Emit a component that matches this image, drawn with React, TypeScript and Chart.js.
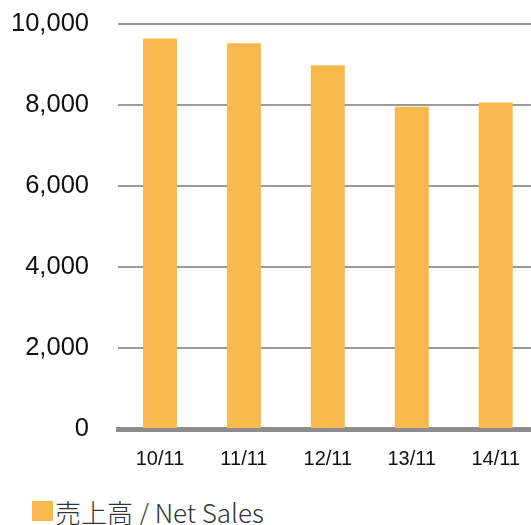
import React, { useEffect, useRef } from "react";
import { Chart, registerables } from "chart.js";

Chart.register(...registerables);

const categories = ["10/11", "11/11", "12/11", "13/11", "14/11"];
const netSales = [9650, 9530, 8990, 7960, 8070];
const yTicks = [0, 2000, 4000, 6000, 8000, 10000];
const seriesLabel = "売上高 / Net Sales";

const BAR_COLOR = "#F7B94D";
const CANVAS_W = 538;
const CANVAS_H = 500;
const CANVAS_TOP = -20;
const PLOT_BOTTOM = 449;

export default function App() {
  const ref = useRef<HTMLCanvasElement | null>(null);

  useEffect(() => {
    if (!ref.current) return;
    const chart = new Chart(ref.current, {
      type: "bar",
      data: {
        labels: categories,
        datasets: [
          {
            label: seriesLabel,
            data: netSales,
            backgroundColor: BAR_COLOR,
            borderWidth: 0,
            categoryPercentage: 1,
            barPercentage: 0.405,
          },
        ],
      },
      options: {
        responsive: false,
        animation: false,
        devicePixelRatio: 1,
        layout: { padding: { top: 5, right: 0, left: 0, bottom: 0 } },
        plugins: { legend: { display: false }, tooltip: { enabled: false } },
        scales: {
          x: {
            z: 1,
            grid: { display: false, drawTicks: false },
            border: { display: true, color: "#8c8c8c", width: 5 },
            ticks: {
              color: "#111",
              font: { family: "'Liberation Sans', Arial, sans-serif", size: 20 },
              padding: 18,
              maxRotation: 0,
            },
            afterFit: (s: any) => {
              s.height = CANVAS_H - PLOT_BOTTOM;
            },
          },
          y: {
            min: 0,
            max: 10000,
            afterBuildTicks: (s: any) => {
              s.ticks = yTicks.map((v) => ({ value: v }));
            },
            grid: {
              drawTicks: false,
              color: (c: any) => (c.tick && c.tick.value === 0 ? "rgba(0,0,0,0)" : "#9a9a9a"),
              lineWidth: 2,
            },
            border: { display: false },
            ticks: {
              color: "#111",
              font: { family: "'Liberation Sans', Arial, sans-serif", size: 25.5 },
              padding: 29,
              callback: (v: any) => Number(v).toLocaleString("en-US"),
            },
            afterFit: (s: any) => {
              s.width = 118;
            },
          },
        },
      },
    });
    return () => chart.destroy();
  }, []);

  return (
    <div
      style={{
        position: "fixed",
        left: 0,
        top: 0,
        width: 531,
        height: 525,
        overflow: "hidden",
        background: "#fff",
      }}
    >
      <canvas
        ref={ref}
        width={CANVAS_W}
        height={CANVAS_H}
        style={{ position: "absolute", left: 0, top: CANVAS_TOP, width: CANVAS_W, height: CANVAS_H }}
      />
      <div
        style={{
          position: "absolute",
          left: 32,
          top: 493,
          height: 36,
          display: "flex",
          alignItems: "center",
          fontFamily: "'Noto Sans CJK JP', 'Noto Sans', sans-serif",
          fontWeight: 300,
          fontSize: 26,
          color: "#333",
          whiteSpace: "nowrap",
        }}
      >
        <span
          style={{ display: "inline-block", width: 21, height: 20, background: BAR_COLOR, marginRight: 2 }}
        />
        <span>{seriesLabel}</span>
      </div>
    </div>
  );
}
